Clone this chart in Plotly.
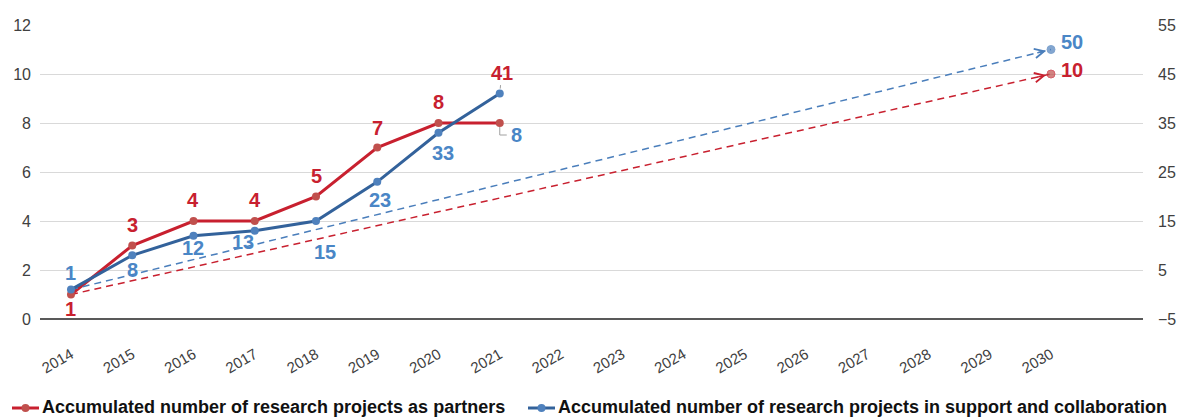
import plotly.graph_objects as go

# ---------------- data ----------------
years = list(range(2014, 2031))
year_labels = [str(y) for y in years]
actual_years = list(range(2014, 2022))
partners = [1, 3, 4, 4, 5, 7, 8, 8]
support = [1, 8, 12, 13, 15, 23, 33, 41]
target_years = [2014, 2030]
partners_target = [1, 10]
support_target = [1, 50]
partners_name = "Accumulated number of research projects as partners"
support_name = "Accumulated number of research projects in support and collaboration"

# ---------------- styles ----------------
W, H = 1180, 418
M_L, M_R, M_T, M_B = 40, 37, 25, 99
RED_LINE = "#C8202F"
RED_MARK = "#C0504D"
BLUE_LINE = "#33629B"
BLUE_MARK = "#4F81BD"
RED_TXT = "#C8202F"
BLUE_TXT = "#4A86C6"
LEADER = "#A0A0A0"
LABEL_FONT = "Liberation Sans, Arial, Helvetica, sans-serif"
LABEL_SIZE = 20

# pixel offsets (xshift, yshift) of the value labels
partner_offsets = [(0, -14), (0, 21), (0, 21), (0, 21), (0, 21), (0, 20), (0, 21), (17, -12)]
partner_label_colors = [RED_TXT] * 7 + [BLUE_TXT]
support_offsets = [(0, 17), (0, -15), (0, -12), (-12, -11), (9, -31), (3, -18), (4, -20), (2, 21)]
support_label_colors = [BLUE_TXT] * 7 + [RED_TXT]

# legend layout (pixel positions of the hand-built legend keys)
legend_items = [
    dict(name=partners_name, line=RED_LINE, mark=RED_MARK, x_line=12),
    dict(name=support_name, line=BLUE_LINE, mark=BLUE_MARK, x_line=528),
]
LEG_Y = 408
LEG_LINE_LEN = 27
LEG_FONT_SIZE = 18

pw = W - M_L - M_R
ph = H - M_T - M_B
def px_x(px):
    return (px - M_L) / pw
def px_y(py):
    return (H - M_B - py) / ph

fig = go.Figure()

# dashed target lines
fig.add_trace(go.Scatter(
    x=target_years, y=partners_target, mode="lines+markers", yaxis="y",
    line=dict(color=RED_LINE, width=1.5, dash="7px,5px"),
    marker=dict(color=RED_MARK, size=[0, 8]), showlegend=False, hoverinfo="skip"))
fig.add_trace(go.Scatter(
    x=target_years, y=support_target, mode="lines+markers", yaxis="y2",
    line=dict(color="#4A7EBB", width=1.5, dash="7px,5px"),
    marker=dict(color=BLUE_MARK, size=[0, 8]), showlegend=False, hoverinfo="skip"))

# actual series
fig.add_trace(go.Scatter(
    x=actual_years, y=partners, mode="lines+markers", name=partners_name, yaxis="y",
    line=dict(color=RED_LINE, width=3), marker=dict(color=RED_MARK, size=8)))
fig.add_trace(go.Scatter(
    x=actual_years, y=support, mode="lines+markers", name=support_name, yaxis="y2",
    line=dict(color=BLUE_LINE, width=3), marker=dict(color=BLUE_MARK, size=8)))

annotations = []
for i, (yr, v) in enumerate(zip(actual_years, partners)):
    dx, dy = partner_offsets[i]
    annotations.append(dict(x=yr, y=v, xref="x", yref="y", text=str(v), showarrow=False,
                            xshift=dx, yshift=dy,
                            font=dict(family=LABEL_FONT, size=LABEL_SIZE, color=partner_label_colors[i], weight="bold")))
for i, (yr, v) in enumerate(zip(actual_years, support)):
    dx, dy = support_offsets[i]
    if i == len(support) - 1:
        annotations.append(dict(x=yr, y=v, xref="x", yref="y2", text=str(v), showarrow=True,
                                ax=dx, ay=-dy, arrowhead=0, arrowwidth=1, arrowcolor=LEADER, standoff=5,
                                font=dict(family=LABEL_FONT, size=LABEL_SIZE, color=support_label_colors[i], weight="bold")))
    else:
        annotations.append(dict(x=yr, y=v, xref="x", yref="y2", text=str(v), showarrow=False,
                                xshift=dx, yshift=dy,
                                font=dict(family=LABEL_FONT, size=LABEL_SIZE, color=support_label_colors[i], weight="bold")))

# target end labels
annotations.append(dict(x=target_years[-1], y=partners_target[-1], xref="x", yref="y",
                        text=str(partners_target[-1]), showarrow=False, xshift=21, yshift=4,
                        font=dict(family=LABEL_FONT, size=LABEL_SIZE, color=RED_TXT, weight="bold")))
annotations.append(dict(x=target_years[-1], y=support_target[-1], xref="x", yref="y2",
                        text=str(support_target[-1]), showarrow=False, xshift=21, yshift=8,
                        font=dict(family=LABEL_FONT, size=LABEL_SIZE, color=BLUE_TXT, weight="bold")))

# open arrowheads at the end of the dashed target lines
def along(ys, t):
    return ys[0] + (ys[1] - ys[0]) * (t - target_years[0]) / (target_years[1] - target_years[0])

tail = target_years[-1] - 0.25
annotations.append(dict(x=target_years[-1], y=partners_target[-1], xref="x", yref="y",
                        ax=tail, ay=along(partners_target, tail), axref="x", ayref="y",
                        text="", showarrow=True, arrowhead=5, arrowsize=1.25, arrowwidth=1.5,
                        arrowcolor=RED_LINE, standoff=5))
annotations.append(dict(x=target_years[-1], y=support_target[-1], xref="x", yref="y2",
                        ax=tail, ay=along(support_target, tail), axref="x", ayref="y2",
                        text="", showarrow=True, arrowhead=5, arrowsize=1.25, arrowwidth=1.5,
                        arrowcolor="#4A7EBB", standoff=5))

shapes = [dict(type="path", xref="x", yref="y", xsizemode="pixel", ysizemode="pixel",
               xanchor=actual_years[-1], yanchor=partners[-1],
               path="M0,-4 L0,-12 L7,-12", line=dict(color=LEADER, width=1))]

# hand-built legend (one row, like the reference)
for item in legend_items:
    x0 = item["x_line"]
    x1 = x0 + LEG_LINE_LEN
    shapes.append(dict(type="line", xref="paper", yref="paper",
                       x0=px_x(x0), x1=px_x(x1), y0=px_y(LEG_Y), y1=px_y(LEG_Y),
                       line=dict(color=item["line"], width=3)))
    shapes.append(dict(type="circle", xref="paper", yref="paper", xsizemode="pixel", ysizemode="pixel",
                       xanchor=px_x((x0 + x1) / 2), yanchor=px_y(LEG_Y),
                       x0=-4, x1=4, y0=-4, y1=4,
                       fillcolor=item["mark"], line=dict(width=0)))
    annotations.append(dict(x=px_x(x1 + 1), y=px_y(LEG_Y - 1), xref="paper", yref="paper",
                            xanchor="left", yanchor="middle", showarrow=False, text=item["name"],
                            font=dict(family=LABEL_FONT, size=LEG_FONT_SIZE, color="#111111", weight="bold")))

fig.update_layout(
    width=W, height=H,
    margin=dict(l=M_L, r=M_R, t=M_T, b=M_B, autoexpand=False),
    plot_bgcolor="white", paper_bgcolor="white",
    font=dict(family=LABEL_FONT, color="#404040"),
    annotations=annotations,
    shapes=shapes,
    showlegend=False,
    xaxis=dict(range=[2013.494, 2031.502], tickmode="array", tickvals=years, ticktext=year_labels,
               tickangle=-30, tickfont=dict(size=15, color="#404040"), showgrid=False,
               zeroline=False, showline=False, ticks="", ticklabelstandoff=23),
    yaxis=dict(range=[0, 12], tick0=0, dtick=2, showgrid=True, gridcolor="#D9D9D9", gridwidth=1,
               zeroline=True, zerolinecolor="#595959", zerolinewidth=1.5, showline=False,
               tickfont=dict(size=16, color="#404040"), ticklabelstandoff=8),
    yaxis2=dict(range=[-5, 55], tick0=-5, dtick=10, overlaying="y", side="right", showgrid=False,
                zeroline=False, showline=False, tickfont=dict(size=16, color="#404040"),
                ticklabelstandoff=14),
)

fig.write_html("out.html", config={"displayModeBar": False},
               post_script="document.body.style.margin='0';")
